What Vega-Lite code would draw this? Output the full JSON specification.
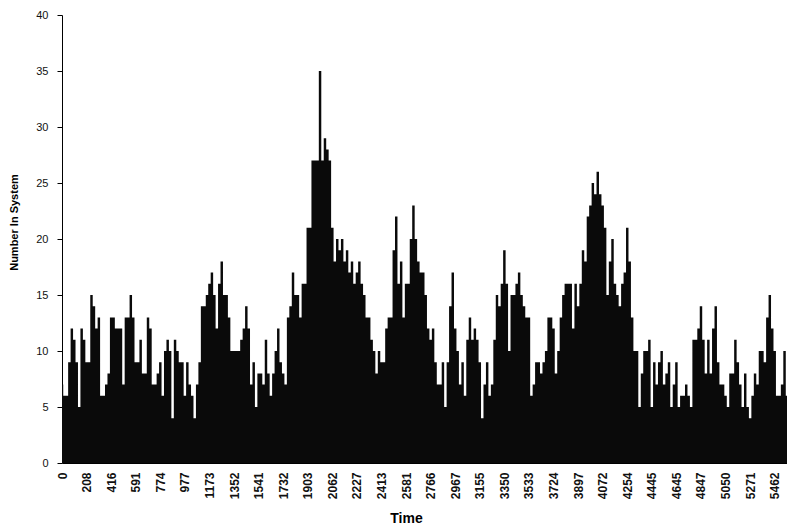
{
  "$schema": "https://vega.github.io/schema/vega-lite/v6.json",
  "width": 725,
  "height": 448,
  "autosize": {"type": "none"},
  "padding": {"left": 62, "top": 15, "right": 0, "bottom": 68},
  "background": "white",
  "config": {"view": {"stroke": null}, "font": "Liberation Sans"},
  "data": {"values": [
    {"i":0,"n":7},{"i":1,"n":6},{"i":2,"n":6},{"i":3,"n":9},{"i":4,"n":12},{"i":5,"n":11},{"i":6,"n":9},{"i":7,"n":5},{"i":8,"n":12},{"i":9,"n":11},
    {"i":10,"n":9},{"i":11,"n":9},{"i":12,"n":15},{"i":13,"n":14},{"i":14,"n":12},{"i":15,"n":13},{"i":16,"n":6},{"i":17,"n":6},{"i":18,"n":7},{"i":19,"n":8},
    {"i":20,"n":13},{"i":21,"n":13},{"i":22,"n":12},{"i":23,"n":12},{"i":24,"n":12},{"i":25,"n":7},{"i":26,"n":13},{"i":27,"n":13},{"i":28,"n":15},{"i":29,"n":13},
    {"i":30,"n":9},{"i":31,"n":9},{"i":32,"n":11},{"i":33,"n":8},{"i":34,"n":8},{"i":35,"n":13},{"i":36,"n":12},{"i":37,"n":7},{"i":38,"n":7},{"i":39,"n":8},
    {"i":40,"n":9},{"i":41,"n":6},{"i":42,"n":10},{"i":43,"n":11},{"i":44,"n":10},{"i":45,"n":4},{"i":46,"n":11},{"i":47,"n":10},{"i":48,"n":9},{"i":49,"n":9},
    {"i":50,"n":6},{"i":51,"n":9},{"i":52,"n":7},{"i":53,"n":6},{"i":54,"n":4},{"i":55,"n":7},{"i":56,"n":9},{"i":57,"n":14},{"i":58,"n":14},{"i":59,"n":15},
    {"i":60,"n":16},{"i":61,"n":17},{"i":62,"n":15},{"i":63,"n":12},{"i":64,"n":16},{"i":65,"n":18},{"i":66,"n":15},{"i":67,"n":15},{"i":68,"n":13},{"i":69,"n":10},
    {"i":70,"n":10},{"i":71,"n":10},{"i":72,"n":10},{"i":73,"n":11},{"i":74,"n":12},{"i":75,"n":14},{"i":76,"n":12},{"i":77,"n":7},{"i":78,"n":9},{"i":79,"n":5},
    {"i":80,"n":8},{"i":81,"n":8},{"i":82,"n":7},{"i":83,"n":11},{"i":84,"n":8},{"i":85,"n":6},{"i":86,"n":8},{"i":87,"n":10},{"i":88,"n":12},{"i":89,"n":9},
    {"i":90,"n":8},{"i":91,"n":7},{"i":92,"n":13},{"i":93,"n":14},{"i":94,"n":17},{"i":95,"n":15},{"i":96,"n":15},{"i":97,"n":13},{"i":98,"n":16},{"i":99,"n":16},
    {"i":100,"n":21},{"i":101,"n":21},{"i":102,"n":27},{"i":103,"n":27},{"i":104,"n":27},{"i":105,"n":35},{"i":106,"n":27},{"i":107,"n":29},{"i":108,"n":28},{"i":109,"n":27},
    {"i":110,"n":21},{"i":111,"n":18},{"i":112,"n":20},{"i":113,"n":19},{"i":114,"n":20},{"i":115,"n":18},{"i":116,"n":19},{"i":117,"n":17},{"i":118,"n":18},{"i":119,"n":16},
    {"i":120,"n":17},{"i":121,"n":18},{"i":122,"n":16},{"i":123,"n":15},{"i":124,"n":13},{"i":125,"n":13},{"i":126,"n":11},{"i":127,"n":10},{"i":128,"n":8},{"i":129,"n":10},
    {"i":130,"n":9},{"i":131,"n":9},{"i":132,"n":12},{"i":133,"n":13},{"i":134,"n":13},{"i":135,"n":19},{"i":136,"n":22},{"i":137,"n":16},{"i":138,"n":18},{"i":139,"n":13},
    {"i":140,"n":16},{"i":141,"n":16},{"i":142,"n":20},{"i":143,"n":23},{"i":144,"n":20},{"i":145,"n":18},{"i":146,"n":17},{"i":147,"n":17},{"i":148,"n":15},{"i":149,"n":12},
    {"i":150,"n":11},{"i":151,"n":12},{"i":152,"n":9},{"i":153,"n":7},{"i":154,"n":7},{"i":155,"n":9},{"i":156,"n":5},{"i":157,"n":9},{"i":158,"n":14},{"i":159,"n":17},
    {"i":160,"n":12},{"i":161,"n":10},{"i":162,"n":7},{"i":163,"n":9},{"i":164,"n":6},{"i":165,"n":11},{"i":166,"n":13},{"i":167,"n":11},{"i":168,"n":12},{"i":169,"n":11},
    {"i":170,"n":9},{"i":171,"n":4},{"i":172,"n":7},{"i":173,"n":9},{"i":174,"n":6},{"i":175,"n":7},{"i":176,"n":11},{"i":177,"n":15},{"i":178,"n":14},{"i":179,"n":16},
    {"i":180,"n":19},{"i":181,"n":16},{"i":182,"n":10},{"i":183,"n":15},{"i":184,"n":15},{"i":185,"n":16},{"i":186,"n":17},{"i":187,"n":15},{"i":188,"n":14},{"i":189,"n":13},
    {"i":190,"n":13},{"i":191,"n":6},{"i":192,"n":7},{"i":193,"n":9},{"i":194,"n":9},{"i":195,"n":8},{"i":196,"n":9},{"i":197,"n":10},{"i":198,"n":13},{"i":199,"n":13},
    {"i":200,"n":12},{"i":201,"n":8},{"i":202,"n":10},{"i":203,"n":13},{"i":204,"n":15},{"i":205,"n":16},{"i":206,"n":16},{"i":207,"n":16},{"i":208,"n":12},{"i":209,"n":16},
    {"i":210,"n":14},{"i":211,"n":16},{"i":212,"n":19},{"i":213,"n":18},{"i":214,"n":22},{"i":215,"n":23},{"i":216,"n":25},{"i":217,"n":24},{"i":218,"n":26},{"i":219,"n":24},
    {"i":220,"n":23},{"i":221,"n":21},{"i":222,"n":15},{"i":223,"n":18},{"i":224,"n":20},{"i":225,"n":16},{"i":226,"n":15},{"i":227,"n":14},{"i":228,"n":16},{"i":229,"n":17},
    {"i":230,"n":21},{"i":231,"n":18},{"i":232,"n":13},{"i":233,"n":10},{"i":234,"n":10},{"i":235,"n":5},{"i":236,"n":8},{"i":237,"n":10},{"i":238,"n":10},{"i":239,"n":11},
    {"i":240,"n":5},{"i":241,"n":9},{"i":242,"n":7},{"i":243,"n":9},{"i":244,"n":10},{"i":245,"n":7},{"i":246,"n":8},{"i":247,"n":9},{"i":248,"n":5},{"i":249,"n":7},
    {"i":250,"n":9},{"i":251,"n":5},{"i":252,"n":6},{"i":253,"n":6},{"i":254,"n":7},{"i":255,"n":6},{"i":256,"n":5},{"i":257,"n":11},{"i":258,"n":11},{"i":259,"n":12},
    {"i":260,"n":14},{"i":261,"n":11},{"i":262,"n":8},{"i":263,"n":11},{"i":264,"n":8},{"i":265,"n":12},{"i":266,"n":14},{"i":267,"n":9},{"i":268,"n":7},{"i":269,"n":7},
    {"i":270,"n":6},{"i":271,"n":5},{"i":272,"n":8},{"i":273,"n":8},{"i":274,"n":11},{"i":275,"n":9},{"i":276,"n":7},{"i":277,"n":5},{"i":278,"n":8},{"i":279,"n":5},
    {"i":280,"n":4},{"i":281,"n":6},{"i":282,"n":8},{"i":283,"n":7},{"i":284,"n":10},{"i":285,"n":10},{"i":286,"n":9},{"i":287,"n":13},{"i":288,"n":15},{"i":289,"n":12},
    {"i":290,"n":10},{"i":291,"n":6},{"i":292,"n":6},{"i":293,"n":7},{"i":294,"n":10},{"i":295,"n":6}
  ]},
  "mark": {"type": "area", "interpolate": "step", "color": "#0a0a0a", "opacity": 1},
  "encoding": {
    "x": {
      "field": "i",
      "type": "quantitative",
      "scale": {"domain": [0, 295], "nice": false, "zero": false},
      "axis": {
        "values": [0,10,20,30,40,50,60,70,80,90,100,110,120,130,140,150,160,170,180,190,200,210,220,230,240,250,260,270,280,290],
        "labelExpr": "['0','208','416','591','774','977','1173','1352','1541','1732','1903','2062','2227','2413','2581','2766','2967','3155','3350','3533','3724','3897','4072','4254','4445','4645','4847','5050','5271','5462'][round(datum.value/10)]",
        "labelAngle": 270,
        "labelAlign": "right",
        "labelBaseline": "middle",
        "labelFlush": false,
        "labelOverlap": false,
        "labelFontSize": 12,
        "labelFontWeight": "bold",
        "labelColor": "#111",
        "labelPadding": 9,
        "ticks": false,
        "grid": false,
        "domain": true,
        "domainColor": "#000",
        "title": "Time",
        "titleFontSize": 14,
        "titleFontWeight": "bold",
        "titleColor": "#000",
        "titlePadding": 13,
        "titleX": 344
      }
    },
    "y": {
      "field": "n",
      "type": "quantitative",
      "scale": {"domain": [0, 40]},
      "axis": {
        "values": [0,5,10,15,20,25,30,35,40],
        "grid": false,
        "tickSize": 5,
        "tickColor": "#000",
        "domainColor": "#000",
        "labelFontSize": 11,
        "labelColor": "#111",
        "labelPadding": 9,
        "title": "Number In System",
        "titleFontSize": 11,
        "titleFontWeight": "bold",
        "titleColor": "#000",
        "titlePadding": 16,
        "titleY": 207
      }
    }
  }
}
